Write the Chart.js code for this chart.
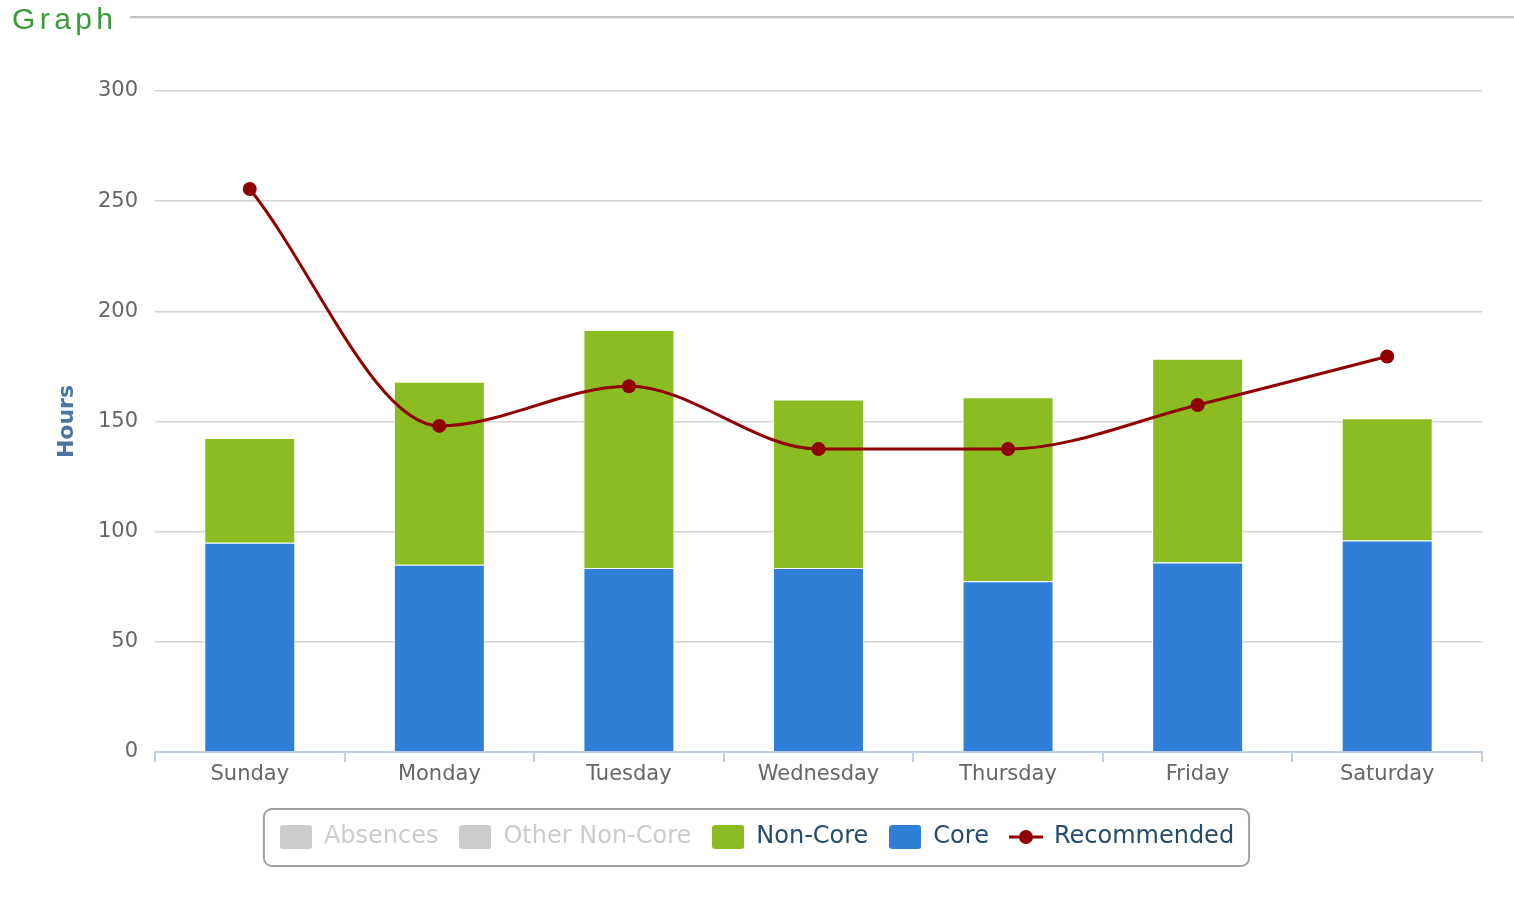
<!DOCTYPE html>
<html>
<head>
<meta charset="utf-8">
<script src="https://cdn.jsdelivr.net/npm/chart.js@4.4.1/dist/chart.umd.min.js"></script>
<style>
  html, body { margin: 0; padding: 0; background: #fff; overflow: hidden; }
  #wrap { position: relative; width: 1514px; height: 922px; }
  #title { position: absolute; left: 12px; top: 4px; font-family: "Liberation Sans", Arial, sans-serif; font-size: 30px; line-height: 30px; letter-spacing: 4.4px; color: #3a9a3a; }
  #rule { position: absolute; left: 130px; top: 16px; width: 1384px; height: 2px; background: #c2c2c2; border-bottom: 1px solid #ececec; }
  canvas { position: absolute; left: 0; top: 0; }
</style>
</head>
<body>
<div id="wrap">
  <canvas id="c" width="1514" height="922"></canvas>
  <div id="title">Graph</div>
  <div id="rule"></div>
</div>
<script>
// ---- data ----
const categories = ["Sunday", "Monday", "Tuesday", "Wednesday", "Thursday", "Friday", "Saturday"];
const coreHours = [95, 85, 83.5, 83.5, 77.5, 86, 96];
const nonCoreHours = [47.5, 83, 108, 76.5, 83.5, 92.5, 55.5];
const otherNonCoreHours = [0, 0, 0, 0, 0, 0, 0];
const absenceHours = [0, 0, 0, 0, 0, 0, 0];
const recommendedHours = [255.5, 148, 166, 137.5, 137.5, 157.5, 179.5];
const yTicks = [0, 50, 100, 150, 200, 250, 300];

// ---- legend symbols ----
function boxSymbol(color) {
  const c = document.createElement('canvas');
  c.width = 32; c.height = 24;
  const g = c.getContext('2d');
  g.fillStyle = color;
  g.beginPath();
  g.roundRect(0, 0, 32, 24, 3);
  g.fill();
  return c;
}
function lineSymbol(color) {
  const c = document.createElement('canvas');
  c.width = 34; c.height = 24;
  const g = c.getContext('2d');
  g.strokeStyle = color; g.lineWidth = 3;
  g.beginPath(); g.moveTo(0, 12); g.lineTo(34, 12); g.stroke();
  g.fillStyle = color;
  g.beginPath(); g.arc(17, 12, 7, 0, Math.PI * 2); g.fill();
  return c;
}

const COLORS = { core: '#2f7ed8', nonCore: '#8bbc21', rec: '#910000', hidden: '#cccccc' };
const legendOrder = [3, 2, 1, 0, 4];

// center the legend across the full canvas width
const legendCenter = {
  id: 'legendCenter',
  afterLayout(chart) {
    const lg = chart.legend;
    if (!lg) return;
    const shift = ((0 + chart.width) - (lg.left + lg.right)) / 2;
    lg.left = 0;
    lg.right = chart.width;
    lg.width = chart.width;
    (lg.legendHitBoxes || []).forEach(h => { h.left += shift; });
  }
};

const legendBox = {
  id: 'legendBox',
  afterDraw(chart) {
    const lg = chart.legend;
    if (!lg || !lg.legendHitBoxes.length) return;
    const hb = lg.legendHitBoxes;
    let l = Infinity, r = -Infinity, t = Infinity, b = -Infinity;
    hb.forEach(h => { l = Math.min(l, h.left); r = Math.max(r, h.left + h.width); t = Math.min(t, h.top); b = Math.max(b, h.top + h.height); });
    const ctx = chart.ctx;
    ctx.save();
    ctx.strokeStyle = '#a0a0a0';
    ctx.lineWidth = 2;
    ctx.beginPath();
    ctx.roundRect(l - 16, t - 16, (r - l) + 31, (b - t) + 33, 8);
    ctx.stroke();
    ctx.restore();
  }
};

new Chart(document.getElementById('c'), {
  data: {
    labels: categories,
    datasets: [
      { type: 'bar', label: 'Core', data: coreHours, backgroundColor: COLORS.core, borderColor: '#ffffff', borderWidth: 1, stack: 'hours', order: 1 },
      { type: 'bar', label: 'Non-Core', data: nonCoreHours, backgroundColor: COLORS.nonCore, borderColor: '#ffffff', borderWidth: 1, stack: 'hours', order: 1 },
      { type: 'bar', label: 'Other Non-Core', data: otherNonCoreHours, backgroundColor: COLORS.hidden, stack: 'hours', order: 1, hidden: true },
      { type: 'bar', label: 'Absences', data: absenceHours, backgroundColor: COLORS.hidden, stack: 'hours', order: 1, hidden: true },
      { type: 'line', label: 'Recommended', data: recommendedHours, borderColor: COLORS.rec, backgroundColor: COLORS.rec, borderWidth: 3, cubicInterpolationMode: 'monotone', pointRadius: 7, pointHoverRadius: 7, pointBorderWidth: 0, stack: 'rec', order: 0, fill: false }
    ]
  },
  options: {
    responsive: false,
    animation: false,
    devicePixelRatio: 1,
    layout: { padding: { top: 91, left: 0, right: 32, bottom: 63 } },
    datasets: { bar: { barPercentage: 0.48, categoryPercentage: 1 } },
    scales: {
      x: {
        stacked: true,
        offset: true,
        grid: { offset: true, drawOnChartArea: false, drawTicks: true, tickLength: 10, color: '#c0d0e0', lineWidth: 2 },
        border: { color: '#c0d0e0', width: 2 },
        ticks: { color: '#666666', font: { family: 'DejaVu Sans', size: 21 }, padding: 0, maxRotation: 0 },
        afterFit(scale) { scale.height = 52; }
      },
      y: {
        stacked: true,
        min: 0, max: 300,
        afterBuildTicks(scale) { scale.ticks = yTicks.map(v => ({ value: v })); },
        grid: { drawTicks: false, color: '#d4d4d4', lineWidth: 1.5 },
        border: { display: false },
        ticks: { color: '#666666', font: { family: 'DejaVu Sans', size: 21 }, padding: 17 },
        title: { display: true, text: 'Hours', color: '#4d759e', font: { family: 'DejaVu Sans', size: 22, weight: 'bold' }, padding: { top: 54, bottom: 0 } },
        afterFit(scale) { scale.width = 155; }
      }
    },
    plugins: {
      tooltip: { enabled: false },
      legend: {
        position: 'bottom',
        labels: {
          usePointStyle: true,
          pointStyleWidth: 32,
          padding: 21,
          font: { family: 'DejaVu Sans', size: 24 },
          generateLabels(chart) {
            return legendOrder.map(i => {
              const ds = chart.data.datasets[i];
              const hid = !!ds.hidden;
              let sym;
              if (ds.type === 'line') sym = lineSymbol(COLORS.rec);
              else sym = boxSymbol(hid ? COLORS.hidden : ds.backgroundColor);
              return { text: ds.label, datasetIndex: i, pointStyle: sym, fillStyle: 'transparent', strokeStyle: 'transparent', lineWidth: 0, hidden: false, fontColor: hid ? COLORS.hidden : '#274b6d' };
            });
          }
        }
      },
      title: { display: false }
    }
  },
  plugins: [legendCenter, legendBox]
});
</script>
</body>
</html>
